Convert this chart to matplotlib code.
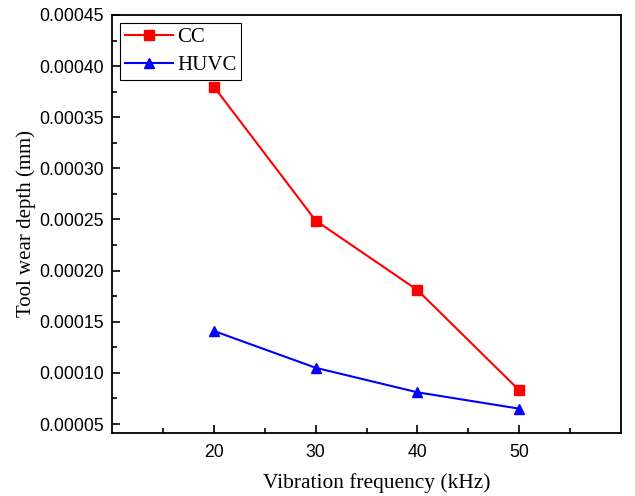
import matplotlib.pyplot as plt
import numpy as np

freq = [20, 30, 40, 50]
cc = [0.000380, 0.000249, 0.000181, 0.000083]
huvc = [0.000141, 0.000105, 0.000081, 0.000065]

fig = plt.figure(figsize=(6.35, 4.96), dpi=100)
ax = fig.add_axes([0.1764, 0.127, 0.8016, 0.8428])

ax.plot(freq, cc, color='red', marker='s', markersize=6.5, linewidth=1.5, label='CC')
ax.plot(freq, huvc, color='blue', marker='^', markersize=7, linewidth=1.5, label='HUVC')

ax.set_xlim(10, 60)
ax.set_ylim(0.0000412, 0.00045)
ax.set_xticks([20, 30, 40, 50])
ax.set_xticks([15, 25, 35, 45, 55], minor=True)
ax.set_yticks(np.arange(0.00005, 0.000451, 0.00005))
ax.set_yticks(np.arange(0.000075, 0.000451, 0.00005), minor=True)
ax.set_yticklabels(['%.5f' % v for v in np.arange(0.00005, 0.000451, 0.00005)])

ax.tick_params(which='both', direction='in', top=False, right=False,
               labelsize=12.7, width=1.2)
ax.tick_params(which='major', length=6)
ax.tick_params(which='minor', length=3.5)
ax.tick_params(axis='x', pad=8)
ax.tick_params(axis='y', pad=6)
for lab in ax.get_xticklabels() + ax.get_yticklabels():
    lab.set_family('Liberation Sans')
for s in ax.spines.values():
    s.set_linewidth(1.3)

ax.set_xlabel('Vibration frequency (kHz)', family='Liberation Serif', fontsize=15.4)
ax.xaxis.set_label_coords(0.52, -0.097)
ax.set_ylabel('Tool wear depth (mm)', family='Liberation Serif', fontsize=15, labelpad=2)

leg = ax.legend(loc='upper left', prop={'family': 'Liberation Serif', 'size': 15},
                fancybox=False, edgecolor='black', framealpha=1, handlelength=2.3,
                borderaxespad=0.4, borderpad=0.22, labelspacing=0.4, handletextpad=0.2)
leg.get_frame().set_linewidth(0.8)

fig.savefig('out.png', dpi=100)
